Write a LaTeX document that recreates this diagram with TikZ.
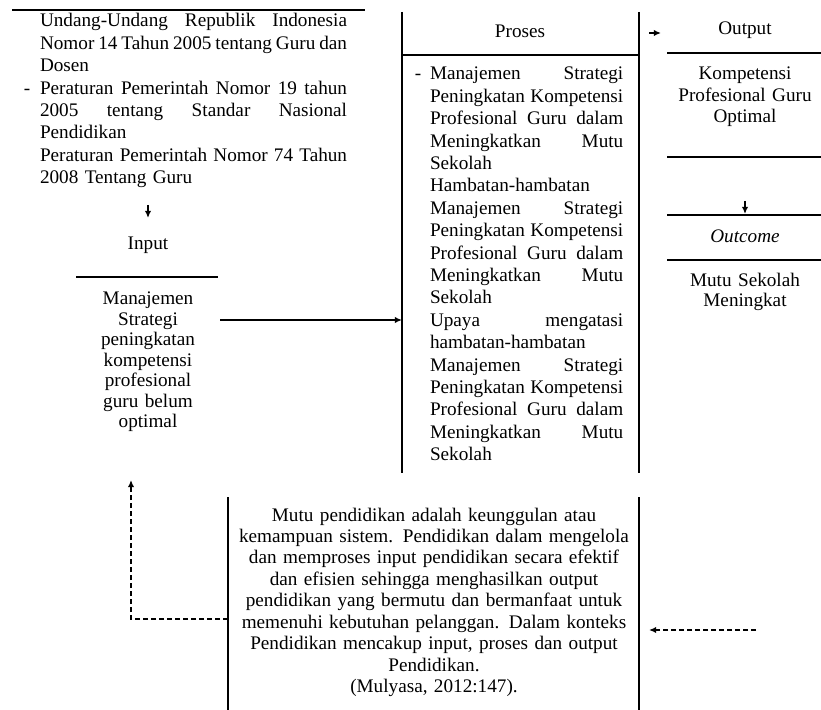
\documentclass[tikz,border=0pt]{standalone}
\usepackage{fontspec}
\setmainfont{Liberation Serif}
\usetikzlibrary{arrows.meta}
\newcommand{\jl}[1]{{\spaceskip=0pt\xspaceskip=0pt\makebox[\hsize][s]{#1}}}
\begin{document}
\begin{tikzpicture}[x=0.625pt,y=-0.625pt,
  rule/.style={line width=1.6pt},
  sep/.style={line width=1.3pt},
  blk/.style={inner sep=0pt, outer sep=0pt},
  arr/.style={-{Latex[length=4.5pt,width=4pt]}, line width=1pt},
  darr/.style={-{Latex[length=4.5pt,width=4pt]}, line width=1pt, dash pattern=on 3pt off 2pt}]
\useasboundingbox (0,0) rectangle (821,710);

% ---------- left legal basis ----------
\draw[rule] (12,10) -- (365,10);
\node[blk, anchor=base west, text width=191.9pt, align=left,
      font=\fontsize{12}{14}\selectfont] (law) at (40,27)
 {\jl{Undang-Undang Republik Indonesia}\\
  \jl{Nomor 14 Tahun 2005 tentang Guru dan}\\
  Dosen\\
  \jl{Peraturan Pemerintah Nomor 19 tahun}\\
  \jl{2005 tentang Standar Nasional}\\
  Pendidikan\\
  \jl{Peraturan Pemerintah Nomor 74 Tahun}\\
  2008 Tentang Guru};
\node[blk, anchor=base, font=\fontsize{12}{14}\selectfont] (lawdash) at (27,94.2) {-};

% ---------- input ----------
\coordinate (inA) at (148,205);
\coordinate (inB) at (148,218);
\draw[arr] (inA) -- (inB);
\node[blk, anchor=base, font=\fontsize{12}{14}\selectfont] (inputT) at (148,250) {Input};
\draw[sep] (76,277) -- (218,277);
\node[blk, anchor=base, text width=62.5pt, align=center,
      font=\fontsize{12}{12.8}\selectfont] (inputB) at (148,305)
 {Manajemen\\ Strategi\\ peningkatan\\ kompetensi\\ profesional\\ guru belum\\ optimal};

\coordinate (inR) at (220,320);
\coordinate (prL) at (402,320);
\draw[arr] (inR) -- (prL);

% ---------- process ----------
\draw[rule] (402,12) -- (402,473);
\draw[rule] (639,12) -- (639,473);
\draw[sep] (402,55) -- (639,55);
\node[blk, anchor=base, font=\fontsize{12}{14}\selectfont] (procT) at (520,38) {Proses};
\node[blk, anchor=base, font=\fontsize{12}{14}\selectfont] (procdash) at (418,80) {-};
\node[blk, anchor=base west, text width=120.8pt, align=left,
      font=\fontsize{12}{14}\selectfont] (procB) at (430,80)
 {\jl{Manajemen Strategi}\\
  \jl{Peningkatan Kompetensi}\\
  \jl{Profesional Guru dalam}\\
  \jl{Meningkatkan Mutu}\\
  Sekolah\\
  Hambatan-hambatan\\
  \jl{Manajemen Strategi}\\
  \jl{Peningkatan Kompetensi}\\
  \jl{Profesional Guru dalam}\\
  \jl{Meningkatkan Mutu}\\
  Sekolah\\
  \jl{Upaya mengatasi}\\
  hambatan-hambatan\\
  \jl{Manajemen Strategi}\\
  \jl{Peningkatan Kompetensi}\\
  \jl{Profesional Guru dalam}\\
  \jl{Meningkatkan Mutu}\\
  Sekolah};

% ---------- output / outcome ----------
\coordinate (outA) at (649,33);
\coordinate (outB) at (661,33);
\draw[arr] (outA) -- (outB);
\node[blk, anchor=base, font=\fontsize{12}{14}\selectfont] (outT) at (745,35) {Output};
\draw[sep] (667,53) -- (821,53);
\node[blk, anchor=base, text width=85pt, align=center,
      font=\fontsize{12}{13.4}\selectfont] (outB2) at (745,80)
 {Kompetensi\\ Profesional Guru\\ Optimal};
\draw[sep] (667,157) -- (821,157);
\coordinate (ocA) at (745,201);
\coordinate (ocB) at (745,214);
\draw[arr] (ocA) -- (ocB);
\draw[sep] (667,215) -- (821,215);
\node[blk, anchor=base, font=\fontsize{12}{14}\selectfont\itshape] (ocT) at (745,243) {Outcome};
\draw[sep] (667,260) -- (821,260);
\node[blk, anchor=base, text width=85pt, align=center,
      font=\fontsize{12}{12.5}\selectfont] (ocB2) at (745,287)
 {Mutu Sekolah\\ Meningkat};

% ---------- bottom quotation ----------
\draw[rule] (228,497) -- (228,712);
\draw[rule] (639,497) -- (639,712);
\node[blk, anchor=base, text width=250pt, align=center,
      font=\fontsize{12}{13.4}\selectfont] (quote) at (434,521)
 {Mutu pendidikan adalah keunggulan atau\\
  kemampuan sistem. Pendidikan dalam mengelola\\
  dan memproses input pendidikan secara efektif\\
  dan efisien sehingga menghasilkan output\\
  pendidikan yang bermutu dan bermanfaat untuk\\
  memenuhi kebutuhan pelanggan. Dalam konteks\\
  Pendidikan mencakup input, proses dan output\\
  Pendidikan.\\
  (Mulyasa, 2012:147).};

\coordinate (qL) at (228,619);
\coordinate (fbUp) at (131,480);
\draw[darr] (qL) -| (fbUp);
\coordinate (rdS) at (756,630);
\coordinate (rdE) at (649,630);
\draw[darr] (rdS) -- (rdE);
\end{tikzpicture}
\end{document}
